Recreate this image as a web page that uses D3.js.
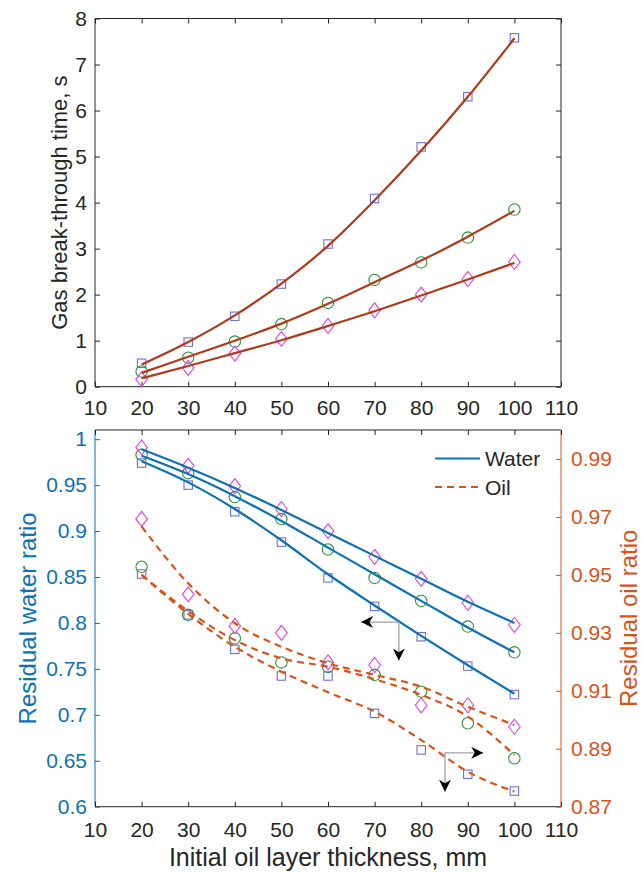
<!DOCTYPE html>
<html>
<head>
<meta charset="utf-8">
<script src="https://cdn.jsdelivr.net/npm/d3@7"></script>
<style>
  body { margin: 0; background: #fff; }
</style>
</head>
<body>
<svg id="chart"></svg>
<script>
// x positions shared by both panels
const thickness = [20, 30, 40, 50, 60, 70, 80, 90, 100];
const xTicks = [10, 20, 30, 40, 50, 60, 70, 80, 90, 100, 110];

// top panel: gas break-through time (s)
const gasSquare  = [0.51, 0.97, 1.53, 2.23, 3.10, 4.09, 5.21, 6.30, 7.58];
const gasCircle  = [0.33, 0.63, 0.98, 1.36, 1.82, 2.32, 2.70, 3.24, 3.85];
const gasDiamond = [0.16, 0.41, 0.72, 1.04, 1.32, 1.66, 2.00, 2.34, 2.71];
const gasFitSquare  = [0.48, 0.97, 1.55, 2.24, 3.06, 4.05, 5.13, 6.30, 7.57];
const gasFitCircle  = [0.30, 0.65, 1.00, 1.37, 1.80, 2.27, 2.74, 3.26, 3.82];
const gasFitDiamond = [0.18, 0.45, 0.73, 1.01, 1.32, 1.64, 1.98, 2.33, 2.69];
const gasTicks = [0, 1, 2, 3, 4, 5, 6, 7, 8];

// bottom panel: residual water ratio (left axis)
const waterSquare  = [0.974, 0.950, 0.921, 0.888, 0.849, 0.818, 0.785, 0.753, 0.722];
const waterCircle  = [0.983, 0.963, 0.937, 0.913, 0.880, 0.849, 0.824, 0.796, 0.768];
const waterDiamond = [0.991, 0.971, 0.949, 0.924, 0.900, 0.872, 0.848, 0.822, 0.798];
const waterFitSquare  = [0.976, 0.953, 0.924, 0.890, 0.853, 0.819, 0.786, 0.754, 0.723];
const waterFitCircle  = [0.982, 0.962, 0.938, 0.911, 0.882, 0.853, 0.824, 0.795, 0.768];
const waterFitDiamond = [0.989, 0.969, 0.947, 0.923, 0.898, 0.873, 0.848, 0.823, 0.800];
const waterTicks = [0.6, 0.65, 0.7, 0.75, 0.8, 0.85, 0.9, 0.95, 1];

// bottom panel: residual oil ratio (right axis)
const oilSquare  = [0.9503, 0.9362, 0.9243, 0.9151, 0.9151, 0.9022, 0.8896, 0.8812, 0.8754];
const oilCircle  = [0.9528, 0.9362, 0.9281, 0.9198, 0.9183, 0.9155, 0.9097, 0.8988, 0.8867];
const oilDiamond = [0.9693, 0.9433, 0.9324, 0.9300, 0.9198, 0.9189, 0.9050, 0.9050, 0.8976];
const oilFitSquare  = [0.9500, 0.9365, 0.9252, 0.9166, 0.9095, 0.9028, 0.8930, 0.8821, 0.8752];
const oilFitCircle  = [0.9500, 0.9375, 0.9275, 0.9212, 0.9183, 0.9140, 0.9086, 0.9011, 0.8878];
const oilFitDiamond = [0.9667, 0.9471, 0.9333, 0.9252, 0.9195, 0.9155, 0.9114, 0.9045, 0.8982];
const oilTicks = [0.87, 0.89, 0.91, 0.93, 0.95, 0.97, 0.99];

const width = 643, height = 872;
const blue = "#0a72b4", orange = "#d95319", fitRed = "#b0391a";
const sqColor = "#6f6fd2", ciColor = "#2f8f3f", diColor = "#e040e0";
const axisColor = "#262626";
const font = '"Liberation Sans", Arial, sans-serif';

const svg = d3.select("#chart").attr("width", width).attr("height", height)
  .attr("font-family", font);

const x = d3.scaleLinear().domain([10, 110]).range([95, 561]);
const yGas = d3.scaleLinear().domain([0, 8]).range([386.7, 18.5]);
const yWater = d3.scaleLinear().domain([0.6, 1.01]).range([806.7, 430]);
const yOil = d3.scaleLinear().domain([0.87, 1.0]).range([806.7, 430]);

const fontSize = 21;

function styleAxis(g, color) {
  g.attr("font-family", font).attr("font-size", fontSize);
  g.select(".domain").remove();
  g.selectAll(".tick line").attr("stroke", color);
  g.selectAll(".tick text").attr("fill", color);
}

function box(top, bottom, leftColor, rightColor) {
  svg.append("line").attr("x1", 95).attr("x2", 561).attr("y1", top).attr("y2", top)
    .attr("stroke", axisColor).attr("stroke-width", 1);
  svg.append("line").attr("x1", 95).attr("x2", 561).attr("y1", bottom).attr("y2", bottom)
    .attr("stroke", axisColor).attr("stroke-width", 1);
  svg.append("line").attr("x1", 95).attr("x2", 95).attr("y1", top).attr("y2", bottom)
    .attr("stroke", leftColor).attr("stroke-width", 1);
  svg.append("line").attr("x1", 561).attr("x2", 561).attr("y1", top).attr("y2", bottom)
    .attr("stroke", rightColor).attr("stroke-width", 1);
}

function markers(xs, ys, yScale, shape) {
  const g = svg.append("g").attr("fill", "none").attr("stroke-width", 1.1);
  xs.forEach((xv, i) => {
    const cx = x(xv), cy = yScale(ys[i]);
    if (shape === "square") {
      g.append("rect").attr("x", cx - 4.2).attr("y", cy - 4.2)
        .attr("width", 8.4).attr("height", 8.4).attr("stroke", sqColor);
    } else if (shape === "circle") {
      g.append("circle").attr("cx", cx).attr("cy", cy).attr("r", 5.7).attr("stroke", ciColor);
    } else {
      g.append("path")
        .attr("d", `M${cx},${cy - 7.5}L${cx + 5.8},${cy}L${cx},${cy + 7.5}L${cx - 5.8},${cy}Z`)
        .attr("stroke", diColor);
    }
  });
}

function fitLine(ys, yScale, color, dash) {
  const line = d3.line()
    .x((d, i) => x(thickness[i]))
    .y(d => yScale(d))
    .curve(d3.curveMonotoneX);
  svg.append("path")
    .datum(ys)
    .attr("d", line)
    .attr("fill", "none")
    .attr("stroke", color)
    .attr("stroke-width", 2.2)
    .attr("stroke-dasharray", dash || null);
}

// ---------------- top panel ----------------
box(18.5, 386.7, axisColor, axisColor);

svg.append("g").attr("transform", "translate(0,386.7)")
  .call(d3.axisBottom(x).tickValues(xTicks).tickSize(-5).tickPadding(13))
  .call(g => styleAxis(g, axisColor));
svg.append("g").attr("transform", "translate(0,18.5)")
  .call(d3.axisTop(x).tickValues(xTicks).tickSize(-5).tickFormat(""))
  .call(g => styleAxis(g, axisColor));
svg.append("g").attr("transform", "translate(95,0)")
  .call(d3.axisLeft(yGas).tickValues(gasTicks).tickSize(-5).tickPadding(8))
  .call(g => styleAxis(g, axisColor));
svg.append("g").attr("transform", "translate(561,0)")
  .call(d3.axisRight(yGas).tickValues(gasTicks).tickSize(-5).tickFormat(""))
  .call(g => styleAxis(g, axisColor));

markers(thickness, gasSquare, yGas, "square");
markers(thickness, gasCircle, yGas, "circle");
markers(thickness, gasDiamond, yGas, "diamond");
fitLine(gasFitSquare, yGas, fitRed);
fitLine(gasFitCircle, yGas, fitRed);
fitLine(gasFitDiamond, yGas, fitRed);

svg.append("text")
  .attr("transform", `translate(67,${(18.5 + 386.7) / 2}) rotate(-90)`)
  .attr("text-anchor", "middle")
  .attr("fill", axisColor)
  .attr("font-size", 22)
  .text("Gas break-through time, s");

// ---------------- bottom panel ----------------
box(430, 806.7, blue, orange);

svg.append("g").attr("transform", "translate(0,806.7)")
  .call(d3.axisBottom(x).tickValues(xTicks).tickSize(-5).tickPadding(15))
  .call(g => styleAxis(g, axisColor));
svg.append("g").attr("transform", "translate(0,430)")
  .call(d3.axisTop(x).tickValues(xTicks).tickSize(-5).tickFormat(""))
  .call(g => styleAxis(g, axisColor));
svg.append("g").attr("transform", "translate(95,0)")
  .call(d3.axisLeft(yWater).tickValues(waterTicks).tickSize(-5).tickPadding(8).tickFormat(d3.format("~g")))
  .call(g => styleAxis(g, blue));
svg.append("g").attr("transform", "translate(561,0)")
  .call(d3.axisRight(yOil).tickValues(oilTicks).tickSize(-5).tickPadding(10).tickFormat(d3.format(".2f")))
  .call(g => styleAxis(g, orange));

markers(thickness, waterSquare, yWater, "square");
markers(thickness, waterCircle, yWater, "circle");
markers(thickness, waterDiamond, yWater, "diamond");
markers(thickness, oilSquare, yOil, "square");
markers(thickness, oilCircle, yOil, "circle");
markers(thickness, oilDiamond, yOil, "diamond");

fitLine(waterFitSquare, yWater, blue);
fitLine(waterFitCircle, yWater, blue);
fitLine(waterFitDiamond, yWater, blue);
fitLine(oilFitSquare, yOil, orange, "7,5");
fitLine(oilFitCircle, yOil, orange, "7,5");
fitLine(oilFitDiamond, yOil, orange, "7,5");

// arrows showing which axis each group belongs to
svg.append("defs").append("marker")
  .attr("id", "head").attr("viewBox", "0 0 10 10")
  .attr("refX", 10).attr("refY", 5)
  .attr("markerWidth", 12).attr("markerHeight", 12)
  .attr("markerUnits", "userSpaceOnUse")
  .attr("orient", "auto")
  .append("path").attr("d", "M0,0L10,5L0,10L3,5Z").attr("fill", "#000");

function arrow(x1, y1, x2, y2) {
  svg.append("line")
    .attr("x1", x1).attr("y1", y1).attr("x2", x2).attr("y2", y2)
    .attr("stroke", "#a0a0a0").attr("stroke-width", 1.3)
    .attr("marker-end", "url(#head)");
}
// water group -> left axis
arrow(x(75.2), yWater(0.801), x(67.1), yWater(0.801));
arrow(x(75.2), yWater(0.801), x(75.2), yWater(0.759));
// oil group -> right axis
arrow(x(85.1), yOil(0.8886), x(93.3), yOil(0.8886));
arrow(x(85.1), yOil(0.8886), x(85.1), yOil(0.8752));

// legend
const legend = svg.append("g").attr("font-size", 21);
legend.append("line").attr("x1", 435).attr("x2", 480).attr("y1", 458.5).attr("y2", 458.5)
  .attr("stroke", blue).attr("stroke-width", 2.2);
legend.append("text").attr("x", 485).attr("y", 466)
  .attr("fill", axisColor).text("Water");
legend.append("line").attr("x1", 435).attr("x2", 480).attr("y1", 487).attr("y2", 487)
  .attr("stroke", orange).attr("stroke-width", 2.2).attr("stroke-dasharray", "7,5");
legend.append("text").attr("x", 485).attr("y", 494.5)
  .attr("fill", axisColor).text("Oil");

svg.append("text")
  .attr("transform", `translate(36,${(430 + 806.7) / 2}) rotate(-90)`)
  .attr("text-anchor", "middle")
  .attr("fill", blue)
  .attr("font-size", 24)
  .text("Residual water ratio");

svg.append("text")
  .attr("transform", `translate(637,${(430 + 806.7) / 2}) rotate(-90)`)
  .attr("text-anchor", "middle")
  .attr("fill", orange)
  .attr("font-size", 24)
  .text("Residual oil ratio");

svg.append("text")
  .attr("x", 328).attr("y", 866)
  .attr("text-anchor", "middle")
  .attr("fill", axisColor)
  .attr("font-size", 25)
  .text("Initial oil layer thickness, mm");
</script>
</body>
</html>
